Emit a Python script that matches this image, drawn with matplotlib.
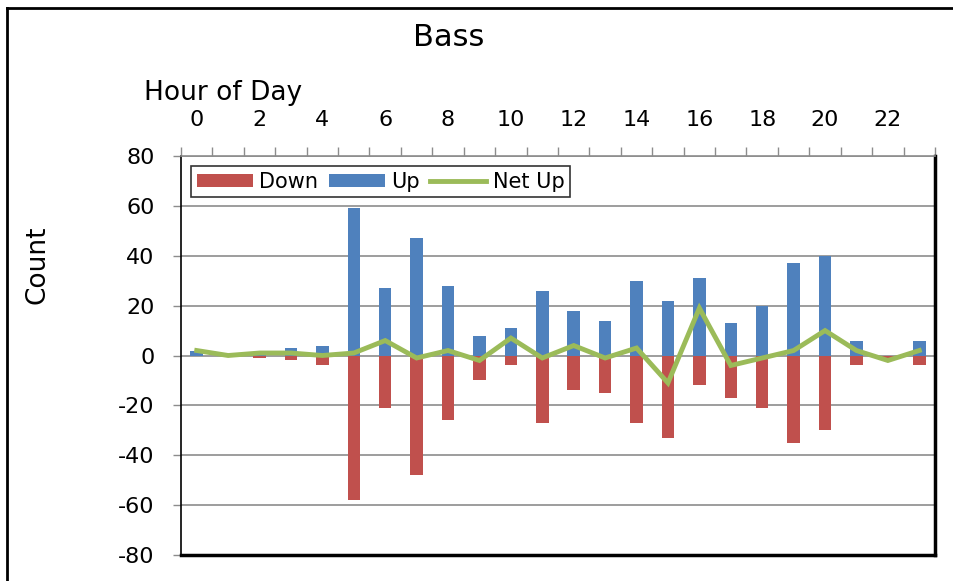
import numpy as np
import matplotlib.pyplot as plt
from matplotlib.lines import Line2D

hours = list(range(24))
up = [2, 0, 1, 3, 4, 59, 27, 47, 28, 8, 11, 26, 18, 14, 30, 22, 31, 13, 20, 37, 40, 6, 0, 6]
down = [0, 0, -1, -2, -4, -58, -21, -48, -26, -10, -4, -27, -14, -15, -27, -33, -12, -17, -21, -35, -30, -4, -1, -4]
net_up = [2, 0, 1, 1, 0, 1, 6, -1, 2, -2, 7, -1, 4, -1, 3, -11, 19, -4, -1, 2, 10, 2, -2, 2]
hour_labels = [str(h) for h in range(0, 24, 2)]

red = '#C0504D'
blue = '#4F81BD'
green = '#9BBB59'
grid_gray = '#8C8C8C'

plt.rcParams['font.family'] = 'DejaVu Sans'
plt.rcParams['axes.unicode_minus'] = False

fig = plt.figure(figsize=(9.54, 5.81), dpi=100)
W, H = 954, 581
ax = fig.add_axes([181 / W, 1 - 555 / H, 754 / W, 399 / H])

b_down = ax.bar(hours, down, width=0.4, color=red, edgecolor='none', label='Down', zorder=2)
b_up = ax.bar(hours, up, width=0.4, color=blue, edgecolor='none', label='Up', zorder=2)
l_net, = ax.plot(hours, net_up, color=green, lw=3.5, solid_joinstyle='miter', label='Net Up', zorder=3)

ax.set_xlim(-0.5, 23.5)
ax.set_ylim(-80, 80)
ax.set_yticks(np.arange(-80, 81, 20))
ax.yaxis.grid(True, color=grid_gray, lw=1.2, zorder=0)
ax.set_axisbelow(True)

# category axis on top: ticks between hours, labels on every other hour
ax.xaxis.tick_top()
ax.set_xticks(np.arange(-0.5, 24, 1))
ax.set_xticklabels([])
ax.set_xticks(range(0, 24, 2), minor=True)
ax.set_xticklabels(hour_labels, minor=True)
ax.tick_params(axis='x', which='major', direction='out', length=6.5, color=grid_gray, width=1)
ax.tick_params(axis='x', which='minor', length=0, pad=19, labelsize=16)
ax.tick_params(axis='y', direction='out', length=6, color=grid_gray, width=1, pad=13, labelsize=16)

ax.spines['top'].set_color(grid_gray)
ax.spines['top'].set_linewidth(1.2)
ax.spines['left'].set_color('black')
ax.spines['left'].set_linewidth(1.2)
ax.spines['bottom'].set_linewidth(2.5)
ax.spines['right'].set_linewidth(2.5)

leg = ax.legend([b_down, b_up, l_net], ['Down', 'Up', 'Net Up'], loc='upper left', ncol=3,
                fontsize=15, frameon=True, fancybox=False, edgecolor='black',
                handlelength=2.7, handleheight=0.55, columnspacing=0.5,
                handletextpad=0.3, borderpad=0.25, borderaxespad=0.5)
leg.get_frame().set_linewidth(1.2)

fig.text(449 / W, 1 - 37 / H, 'Bass', ha='center', va='center', fontsize=22)
fig.text(223 / W, 1 - 93 / H, 'Hour of Day', ha='center', va='center', fontsize=19)
fig.text(37 / W, 1 - 265 / H, 'Count', ha='center', va='center', rotation=90, fontsize=19)

# outer chart border
fig.add_artist(Line2D([7.5 / W, 7.5 / W], [0, 1 - 7.5 / H], color='black', lw=2, transform=fig.transFigure))
fig.add_artist(Line2D([7.5 / W, 1], [1 - 7.5 / H, 1 - 7.5 / H], color='black', lw=2, transform=fig.transFigure))

fig.savefig('out.png', dpi=100)
